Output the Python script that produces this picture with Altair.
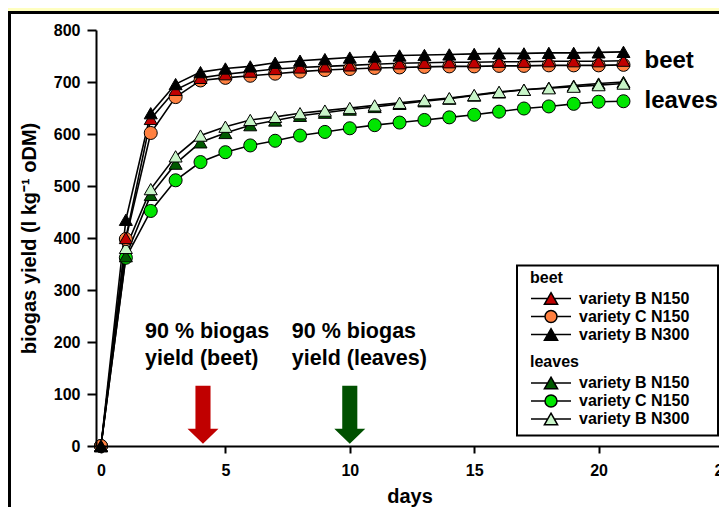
import altair as alt
import pandas as pd

# ---------------- data ----------------
days = list(range(22))

series_names = ["variety B N150", "variety C N150", "variety B N300"]

beet_B_N150 = [0, 400, 629, 685, 708, 715, 720, 725, 728, 730, 732, 734, 736, 737, 738, 738, 739, 739, 740, 740, 740, 741]
beet_C_N150 = [0, 398, 602, 671, 703, 708, 712, 716, 720, 723, 725, 727, 728, 729, 730, 730, 731, 731, 732, 732, 732, 733]
beet_B_N300 = [0, 435, 640, 696, 719, 726, 730, 737, 741, 744, 747, 749, 751, 752, 753, 754, 755, 755, 756, 756, 757, 758]

leaves_B_N150 = [0, 365, 483, 543, 584, 602, 617, 626, 635, 641, 647, 652, 658, 663, 668, 674, 680, 685, 689, 693, 697, 700]
leaves_C_N150 = [0, 362, 452, 511, 546, 565, 578, 587, 597, 604, 611, 617, 622, 627, 632, 637, 643, 649, 653, 658, 662, 663]
leaves_B_N300 = [0, 381, 494, 557, 597, 614, 627, 633, 640, 645, 650, 655, 660, 665, 669, 675, 681, 685, 688, 691, 694, 697]

beet_colors = ["#C00000", "#FF8040", "#000000"]
leaves_colors = ["#005A00", "#00E600", "#C8F5C8"]

arrow_days = [4.1, 10]
arrow_colors = ["#C00000", "#005000"]
arrow_texts = ["90 % biogas\nyield (beet)", "90 % biogas\nyield (leaves)"]

end_texts = ["beet", "leaves"]

x_ticks = [0, 5, 10, 15, 20, 25]
y_ticks = [0, 100, 200, 300, 400, 500, 600, 700, 800]

# ---------------- shapes ----------------
TRI = "triangle-up"
CIRC = "circle"
series_shapes = [TRI, CIRC, TRI]
LEG_TRI = "M-1,0H-0.17M0.17,0H1M0,-0.29L0.33,0.29L-0.33,0.29Z"
LEG_CIRC = "M-1,0H-0.3M0.3,0H1M0.3,0A0.3,0.3,0,1,1,-0.3,0A0.3,0.3,0,1,1,0.3,0Z"
legend_shapes = [LEG_TRI, LEG_CIRC, LEG_TRI]
ARROW = "M-0.26,-1L0.26,-1L0.26,0.48L0.534,0.48L0,1L-0.534,0.48L-0.26,0.48Z"

# ---------------- long table (draw order: leaves then beet; C, B150, B300) ----------------
groups = [
    ("leaves", leaves_colors, [leaves_B_N150, leaves_C_N150, leaves_B_N300]),
    ("beet", beet_colors, [beet_B_N150, beet_C_N150, beet_B_N300]),
]
order_idx = [1, 0, 2]
rows = []
keys, key_colors, key_shapes = [], [], []
for g, cols, vals in groups:
    for i in order_idx:
        k = f"{g} {series_names[i]}"
        keys.append(k)
        key_colors.append(cols[i])
        key_shapes.append(series_shapes[i])
        for d, v in zip(days, vals[i]):
            rows.append({"day": d, "value": v, "key": k})
df = pd.DataFrame(rows)

FONT = "Liberation Sans"

xscale = alt.Scale(domain=[-0.2, 25], nice=False, zero=False)
yscale = alt.Scale(domain=[0, 800], nice=False)

X = alt.X("day:Q", scale=xscale, axis=alt.Axis(
    values=x_ticks, title="days", grid=False, labelFontSize=16, labelFontWeight="bold",
    titleFontSize=20, titleFontWeight="bold", tickSize=7, tickWidth=2, domainWidth=2,
    labelPadding=9, titlePadding=8, labelFlush=False, zindex=1))
Y = alt.Y("value:Q", scale=yscale, axis=alt.Axis(
    values=y_ticks, title="biogas yield (l kg\u207b\u00b9 oDM)", grid=False, labelFontSize=16,
    labelFontWeight="bold", titleFontSize=20, titleFontWeight="bold", tickSize=9, tickWidth=2,
    domainWidth=2, labelPadding=7, titlePadding=14, zindex=1))

one = pd.DataFrame({"a": [0]})

panel = alt.Chart(one).mark_rect(fill="white", stroke="black", strokeWidth=3).encode(
    x=alt.value(-86.5), x2=alt.value(900), y=alt.value(-17.5), y2=alt.value(700))

legend_box = alt.Chart(one).mark_rect(fill="white", stroke="black", strokeWidth=2).encode(
    x=alt.value(421), x2=alt.value(622), y=alt.value(235.5), y2=alt.value(405.5))

lines = alt.Chart(df).mark_line(color="black", strokeWidth=1.6).encode(
    x=X, y=Y, detail="key:N")

points = alt.Chart(df).mark_point(filled=True, stroke="black", strokeWidth=1, opacity=1, size=170).encode(
    x=X, y=Y,
    fill=alt.Fill("key:N", scale=alt.Scale(domain=keys, range=key_colors), legend=None),
    shape=alt.Shape("key:N", scale=alt.Scale(domain=keys, range=key_shapes), legend=None),
)

arrow_df = pd.DataFrame({"day": arrow_days, "color": arrow_colors, "text": arrow_texts})
arrows = alt.Chart(arrow_df).mark_point(filled=True, opacity=1, strokeWidth=0, shape=ARROW, size=3364).encode(
    x=alt.X("day:Q", scale=xscale), y=alt.datum(60),
    fill=alt.Fill("color:N", scale=None))

arrow_labels = alt.Chart(arrow_df).mark_text(
    align="left", baseline="alphabetic", dx=-58, fontSize=21.5, fontWeight="bold",
    lineBreak="\n", lineHeight=27, color="black").encode(
    x=alt.X("day:Q", scale=xscale), y=alt.datum(208), text="text:N")

end_df = pd.DataFrame({"day": [days[-1], days[-1]],
                       "value": [beet_B_N150[-1], leaves_C_N150[-1]],
                       "text": end_texts})
end_labels = alt.Chart(end_df).mark_text(
    align="left", baseline="middle", dx=21, fontSize=24, fontWeight="bold", color="black").encode(
    x=alt.X("day:Q", scale=xscale), y=alt.Y("value:Q", scale=yscale), text="text:N")


def legend_layer(title, colors, ly):
    leg = alt.Legend(title=title, orient="none", legendX=434, legendY=ly,
                     titleFontSize=16, titleFontWeight="bold", titleFont=FONT, titlePadding=5,
                     labelFontSize=16, labelFontWeight="bold", labelFont=FONT, labelOffset=7,
                     symbolSize=1600, symbolStrokeWidth=1.5,
                     clipHeight=16, rowPadding=2, padding=0, symbolOffset=0,
                     labelLimit=300)
    ldf = pd.DataFrame({"name": series_names})
    return alt.Chart(ldf).mark_point(filled=True, stroke="black", strokeWidth=1.5, opacity=1).encode(
        x=alt.value(-5000), y=alt.value(-5000),
        fill=alt.Fill("name:N", scale=alt.Scale(domain=series_names, range=colors), legend=leg),
        shape=alt.Shape("name:N", scale=alt.Scale(domain=series_names, range=legend_shapes), legend=leg),
        stroke=alt.Stroke("name:N", scale=alt.Scale(domain=series_names, range=["black", "black", "black"]), legend=leg),
    )


beet_leg = legend_layer("beet", beet_colors, 239.5)
leaves_leg = legend_layer("leaves", leaves_colors, 324)

chart = alt.layer(panel, legend_box, lines, points, arrows, arrow_labels, end_labels, beet_leg, leaves_leg).resolve_scale(
    fill="independent", shape="independent", stroke="independent"
).properties(
    width=627, height=416,
    autosize=alt.AutoSizeParams(type="none"),
    padding={"left": 88, "top": 22, "right": -4, "bottom": 61},
    background="#FFFFC0",
).configure_view(stroke=None).configure(font=FONT).configure_axis(
    domainColor="black", tickColor="black", labelColor="black", titleColor="black",
    labelFont=FONT, titleFont=FONT)

chart.save("out.html", embed_options={"renderer": "svg", "actions": False})
